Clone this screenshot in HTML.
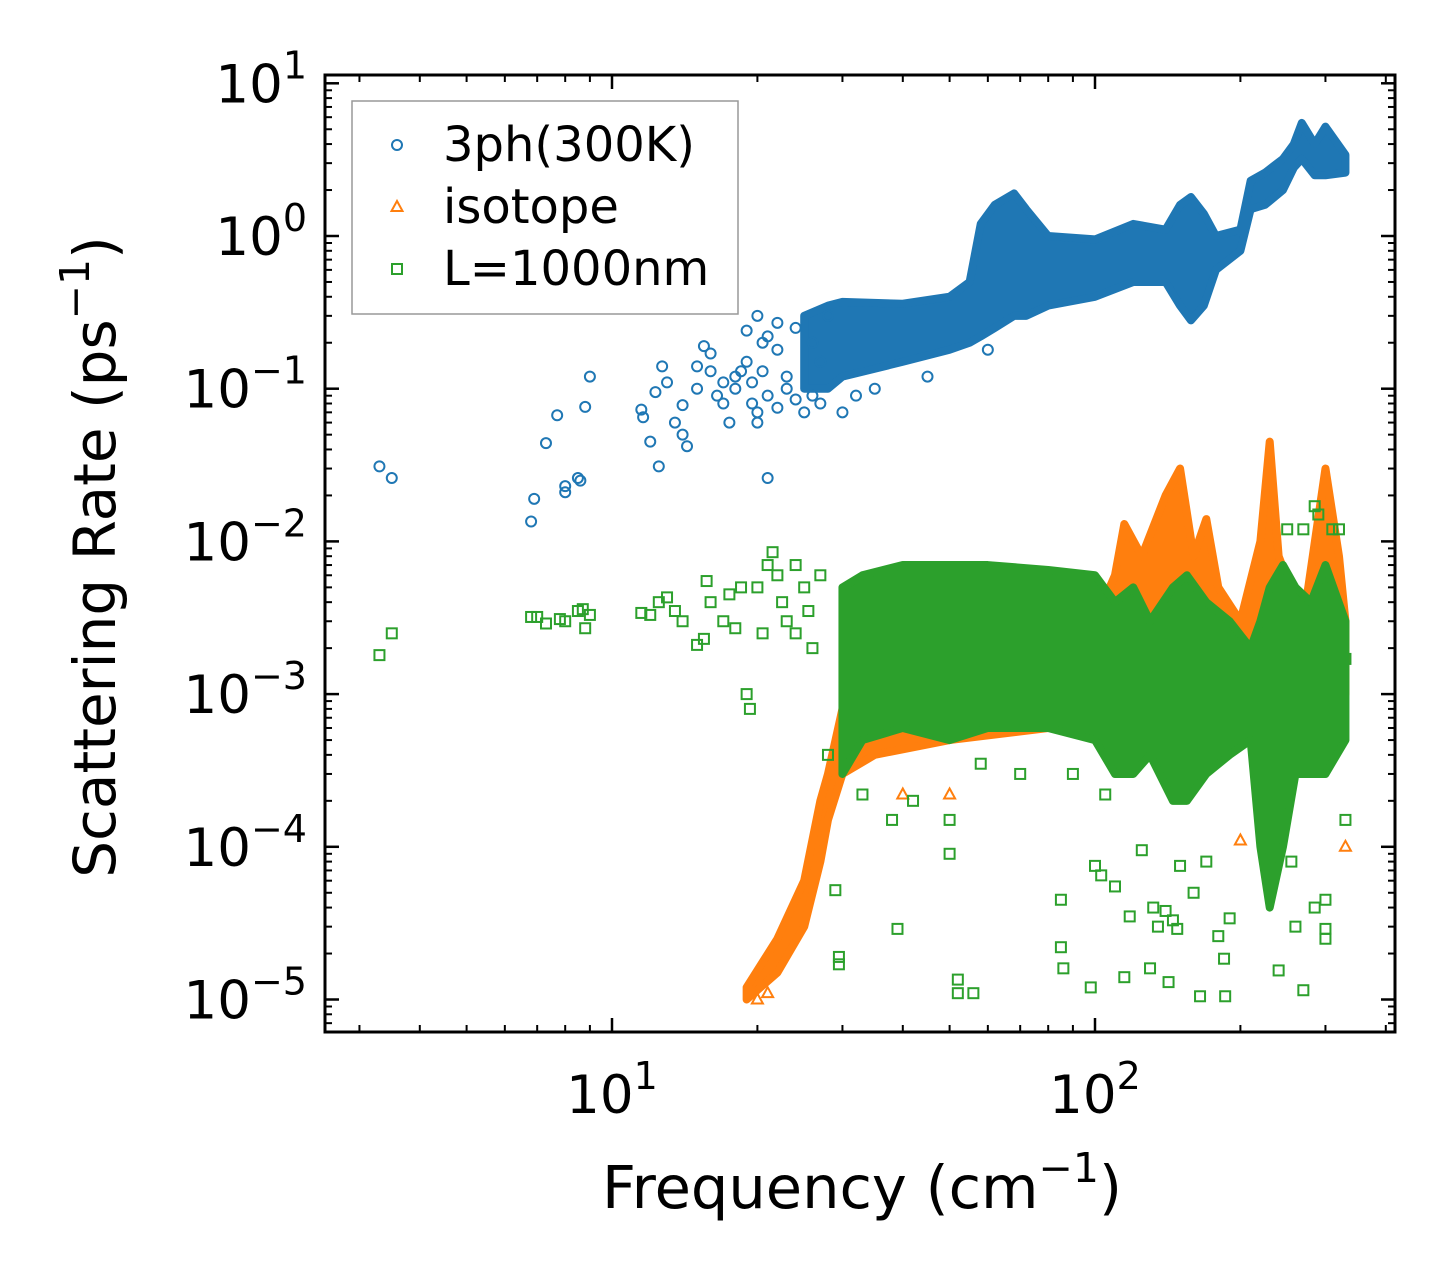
<!DOCTYPE html>
<html><head><meta charset="utf-8"><style>
body{margin:0;background:#fff;}
svg{display:block;font-family:"DejaVu Sans","Liberation Sans",sans-serif;}
</style></head><body>
<svg id="chart" width="1455" height="1282" viewBox="0 0 1455 1282">
<rect width="1455" height="1282" fill="#fff"/>
<g id="bands"></g><g id="marks"></g><g id="axes"></g>
</svg>
<script>
// ---- data ----
const xTickVals=[10,100];
const yTickExps=[1,0,-1,-2,-3,-4,-5];
const seriesNames=["3ph(300K)","isotope","L=1000nm"];
// dense regions: [freq, low, high]
const bandBlue=[[25,0.1,0.3],[28,0.1,0.35],[30,0.12,0.37],[40,0.15,0.36],[50,0.18,0.4],[55,0.2,0.5],[58,0.22,1.2],[62,0.25,1.6],[68,0.3,1.9],[72,0.3,1.5],[80,0.35,1.0],[100,0.4,0.95],[120,0.5,1.2],[140,0.5,1.1],[150,0.35,1.6],[158,0.28,1.8],[168,0.35,1.4],[178,0.6,1.0],[200,0.8,1.1],[210,1.5,2.3],[225,1.6,2.6],[245,2.0,3.2],[258,2.8,4.0],[268,3.2,5.5],[285,2.5,4.0],[300,2.5,5.2],[330,2.6,3.4]];
const bandOrange=[[19,1e-5,1.2e-5],[22,1.5e-5,2.5e-5],[25,3e-5,6e-5],[27,8e-5,2e-4],[28,1.5e-4,3e-4],[30,3e-4,8e-4],[35,4e-4,1.5e-3],[50,5e-4,1.5e-3],[80,6e-4,2e-3],[100,8e-4,3e-3],[110,1e-3,6e-3],[115,2e-3,1.3e-2],[125,2e-3,8e-3],[140,2e-3,2e-2],[150,2e-3,3e-2],[160,1e-3,8e-3],[170,1e-3,1.4e-2],[180,1e-3,5e-3],[200,1e-3,3e-3],[220,2e-3,1e-2],[230,3e-3,4.5e-2],[240,1e-3,8e-3],[270,1e-3,3e-3],[300,2e-3,3e-2],[320,1e-3,8e-3],[330,1e-3,3e-3]];
const bandGreen=[[30,3e-4,5e-3],[33,5e-4,6e-3],[40,6e-4,7e-3],[50,5e-4,7e-3],[60,6e-4,7e-3],[80,6e-4,6.5e-3],[100,5e-4,6e-3],[110,3e-4,4e-3],[120,3e-4,5e-3],[130,4e-4,3e-3],[145,2e-4,5e-3],[155,2e-4,6e-3],[170,3e-4,4e-3],[190,4e-4,3e-3],[210,5e-4,2e-3],[220,1e-4,3e-3],[230,4e-5,5e-3],[245,1e-4,7e-3],[260,3e-4,5e-3],[280,3e-4,4e-3],[300,3e-4,7e-3],[330,5e-4,3e-3]];
// sparse points: [freq, rate]
const ptsBlue=[[3.3,0.031],[3.5,0.026],[6.8,0.0135],[6.9,0.019],[7.3,0.044],[7.7,0.067],[8,0.023],[8,0.021],[8.5,0.026],[8.6,0.025],[8.8,0.076],[9,0.12],[11.5,0.073],[11.6,0.065],[12,0.045],[12.3,0.095],[12.5,0.031],[12.7,0.14],[13,0.11],[13.5,0.06],[14,0.078],[14,0.05],[14.3,0.042],[15,0.14],[15,0.1],[15.5,0.19],[16,0.17],[16.5,0.09],[17,0.08],[17.5,0.06],[18,0.12],[18,0.1],[19,0.24],[19,0.15],[19.5,0.11],[20,0.3],[20,0.07],[20.5,0.13],[21,0.22],[21,0.026],[22,0.27],[22,0.18],[23,0.1],[24,0.25],[25,0.07],[26,0.09],[27,0.15],[30,0.07],[35,0.1],[20,0.06],[21,0.09],[22,0.075],[23,0.12],[24,0.085],[19.5,0.08],[20.5,0.2],[18.5,0.13],[17,0.11],[16,0.13],[26,0.2],[27,0.08],[28,0.3],[32,0.09],[45,0.12],[60,0.18]];
const ptsOrange=[[40,2.2e-4],[50,2.2e-4],[200,1.1e-4],[330,1e-4],[20,1e-5],[21,1.1e-5]];
const ptsGreen=[[3.3,1.8e-3],[3.5,2.5e-3],[6.8,3.2e-3],[7,3.2e-3],[7.3,2.9e-3],[7.8,3.1e-3],[8,3.0e-3],[8.5,3.5e-3],[8.7,3.6e-3],[8.8,2.7e-3],[9,3.3e-3],[11.5,3.4e-3],[12,3.3e-3],[12.5,4e-3],[13,4.3e-3],[13.5,3.5e-3],[14,3e-3],[15,2.1e-3],[15.5,2.3e-3],[15.7,5.5e-3],[16,4e-3],[17,3e-3],[17.5,4.5e-3],[18,2.7e-3],[18.5,5e-3],[19,1e-3],[19.3,8e-4],[20,5e-3],[20.5,2.5e-3],[21,7e-3],[21.5,8.5e-3],[22,6e-3],[23,3e-3],[24,7e-3],[25,5e-3],[26,2e-3],[27,6e-3],[22.5,4e-3],[24,2.5e-3],[25.5,3.5e-3],[28,4e-4],[29,5.2e-5],[29.5,1.9e-5],[29.5,1.7e-5],[33,2.2e-4],[38,1.5e-4],[39,2.9e-5],[42,2e-4],[50,9e-5],[50,1.5e-4],[52,1.1e-5],[52,1.35e-5],[56,1.1e-5],[58,3.5e-4],[70,3e-4],[85,4.5e-5],[85,2.2e-5],[86,1.6e-5],[90,3e-4],[98,1.2e-5],[100,7.5e-5],[103,6.5e-5],[105,2.2e-4],[110,5.5e-5],[115,1.4e-5],[118,3.5e-5],[125,9.5e-5],[130,1.6e-5],[132,4e-5],[135,3e-5],[140,3.8e-5],[142,1.3e-5],[145,3.3e-5],[148,2.9e-5],[150,7.5e-5],[160,5e-5],[165,1.05e-5],[170,8e-5],[180,2.6e-5],[185,1.85e-5],[186,1.05e-5],[190,3.4e-5],[240,1.55e-5],[255,8e-5],[260,3e-5],[270,1.15e-5],[285,4e-5],[300,2.5e-5],[300,2.9e-5],[300,4.5e-5],[330,1.5e-4],[330,1.7e-3],[310,1.2e-2],[290,1.5e-2],[270,1.2e-2],[285,1.7e-2],[250,1.2e-2],[320,1.2e-2]];

// ---- axes ----
const L=325,R=1395,T=75,B=1032;
const X0=612,XD=483;
const Y0=236,YD=152.7;
const xs=f=>X0+(Math.log10(f)-1)*XD;
const ys=v=>Y0-Math.log10(v)*YD;
const NS="http://www.w3.org/2000/svg";
const C={blue:"#1f77b4",orange:"#ff7f0e",green:"#2ca02c"};
function mk(tag,attrs,parent){const e=document.createElementNS(NS,tag);for(const k in attrs)e.setAttribute(k,attrs[k]);parent.appendChild(e);return e;}
const bands=document.getElementById('bands'),marks=document.getElementById('marks'),axes=document.getElementById('axes');

function band(data,color,name){
  const top=data.map(d=>xs(d[0])+','+ys(d[2]));
  const bot=data.slice().reverse().map(d=>xs(d[0])+','+ys(d[1]));
  const p=mk('polygon',{points:top.concat(bot).join(' '),fill:color,stroke:color,'stroke-width':8,'stroke-linejoin':'round'},bands);
  
  
}
band(bandBlue,C.blue,'3ph-dense-region');
band(bandOrange,C.orange,'isotope-dense-region');
band(bandGreen,C.green,'boundary-dense-region');

function marker(kind,x,y,color,parent){
  let e;
  if(kind==='o') e=mk('circle',{cx:x,cy:y,r:5,fill:'none',stroke:color,'stroke-width':2},parent);
  else if(kind==='^') e=mk('polygon',{points:`${x},${y-6} ${x-5.5},${y+4} ${x+5.5},${y+4}`,fill:'none',stroke:color,'stroke-width':2},parent);
  else e=mk('rect',{x:x-5,y:y-5,width:10,height:10,fill:'none',stroke:color,'stroke-width':2},parent);
  return e;
}
ptsBlue.forEach(d=>{const e=marker('o',xs(d[0]),ys(d[1]),C.blue,marks);
  
  });
ptsOrange.forEach(d=>{const e=marker('^',xs(d[0]),ys(d[1]),C.orange,marks);
  
  });
ptsGreen.forEach(d=>{const e=marker('s',xs(d[0]),ys(d[1]),C.green,marks);
  
  });

const fr=mk('rect',{x:L,y:T,width:R-L,height:B-T,fill:'none',stroke:'#000','stroke-width':3},axes);


for(let e=0;e<=2;e++)for(let m=1;m<=9;m++){
  const f=m*Math.pow(10,e),x=xs(f);if(x<L||x>R)continue;
  const len=m===1?14:7;
  mk('line',{x1:x,y1:B,x2:x,y2:B-len,stroke:'#000','stroke-width':m===1?2.5:2},axes);
  mk('line',{x1:x,y1:T,x2:x,y2:T+len,stroke:'#000','stroke-width':m===1?2.5:2},axes);
}
xTickVals.forEach(v=>{
  const t=mk('text',{x:xs(v),y:1113,'text-anchor':'middle','font-size':53},axes);
  t.textContent='10';const s=mk('tspan',{dy:-24,'font-size':38},t);s.textContent=String(Math.round(Math.log10(v)));
  
  
});
for(let e=-6;e<=1;e++)for(let m=1;m<=9;m++){
  const v=m*Math.pow(10,e),y=ys(v);if(y<T||y>B)continue;
  const len=m===1?14:7;
  mk('line',{x1:L,y1:y,x2:L+len,y2:y,stroke:'#000','stroke-width':m===1?2.5:2},axes);
  mk('line',{x1:R,y1:y,x2:R-len,y2:y,stroke:'#000','stroke-width':m===1?2.5:2},axes);
}
yTickExps.forEach(ex=>{
  const y=ys(Math.pow(10,ex));
  const t=mk('text',{x:307,y:y+19,'font-size':53,'text-anchor':'end'},axes);
  t.textContent='10';
  const s=mk('tspan',{dy:-24,'font-size':38},t);s.textContent=ex<0?'\u2212'+(-ex):String(ex);
  
  
});
const xt=mk('text',{x:862,y:1208,'text-anchor':'middle','font-size':59},axes);
xt.textContent='Frequency (cm';let s1=mk('tspan',{dy:-26,'font-size':41},xt);s1.textContent='\u22121';let s2=mk('tspan',{dy:26},xt);s2.textContent=')';


const yt=mk('text',{x:0,y:0,'text-anchor':'middle','font-size':58,transform:'translate(115,557) rotate(-90)'},axes);
yt.textContent='Scattering Rate (ps';let s3=mk('tspan',{dy:-26,'font-size':41},yt);s3.textContent='\u22121';let s4=mk('tspan',{dy:26},yt);s4.textContent=')';


const lg=mk('g',{},axes);


mk('rect',{x:352,y:101,width:386,height:213,fill:'#fff',stroke:'#999','stroke-width':1.5},lg);
const kinds=['o','^','s'],cols=[C.blue,C.orange,C.green];
seriesNames.forEach((n,i)=>{
  const y=145+i*62;
  const g=mk('g',{},lg);
  
  
  marker(kinds[i],397,y,cols[i],g);
  const t=mk('text',{x:443,y:y+16,'font-size':48},g);t.textContent=n;
});
</script>
</body></html>
